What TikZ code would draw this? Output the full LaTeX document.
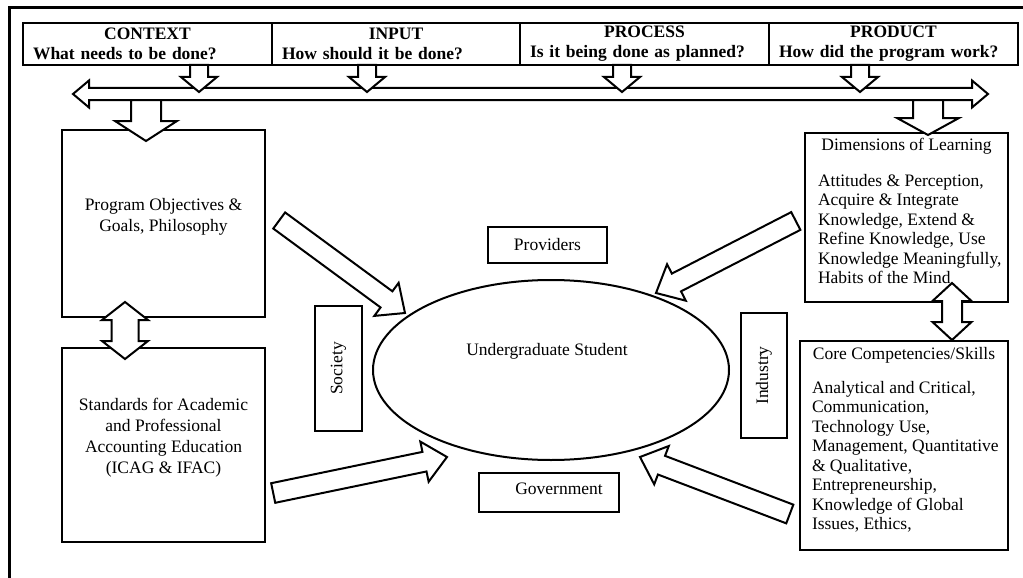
\documentclass[tikz,border=0pt]{standalone}
\usepackage{fontspec}
\setmainfont{Liberation Serif}
\usetikzlibrary{calc,positioning,shapes.geometric}

\newcommand\figfont{\fontsize{17.5}{20}\selectfont}
\newcommand\headline[2]{\hbox to\hsize{\hss#1\hss}\\#2}

% block arrow: from, to, half shaft, half head, head length
\newcommand\fatarrow[5]{
  \coordinate (hb) at ($(#2)!#5!(#1)$);
  \draw[blockline] ($(#1)!#3!90:(#2)$) -- ($(hb)!#3!90:(#2)$) -- ($(hb)!#4!90:(#2)$)
    -- (#2) -- ($(hb)!#4!-90:(#2)$) -- ($(hb)!#3!-90:(#2)$) -- ($(#1)!#3!-90:(#2)$) -- cycle;
}
\newcommand\twinarrow[5]{
  \coordinate (ha) at ($(#1)!#5!(#2)$);
  \coordinate (hb) at ($(#2)!#5!(#1)$);
  \draw[blockline] (#1) -- ($(ha)!#4!90:(#2)$) -- ($(ha)!#3!90:(#2)$) -- ($(hb)!#3!90:(#2)$)
    -- ($(hb)!#4!90:(#2)$) -- (#2) -- ($(hb)!#4!-90:(#2)$) -- ($(hb)!#3!-90:(#2)$)
    -- ($(ha)!#3!-90:(#2)$) -- ($(ha)!#4!-90:(#2)$) -- cycle;
}

\begin{document}
\begin{tikzpicture}[x=1pt, y=-1pt, font=\figfont,
  frame/.style={line width=3pt},
  cell/.style={draw, line width=1.3pt, minimum height=42pt, inner xsep=10pt, inner ysep=0pt,
    align=left, font=\figfont\bfseries},
  bigbox/.style={draw, line width=2.4pt, inner sep=0pt},
  tagbox/.style={draw, line width=1.5pt, inner sep=0pt},
  listtext/.style={align=left, inner sep=0pt, font=\fontsize{17.5}{19.5}\selectfont},
  blockline/.style={draw, fill=white, line width=2pt, line join=miter}]

  \useasboundingbox (0,0) rectangle (1023,578);
  \draw[frame] (9,578) -- (9,8) -- (1023,8);

  % CIPP header
  \node[cell, text width=229] (ctx) at (147.5,44) {\headline{CONTEXT}{What needs to be done?}};
  \node[cell, text width=228] (inp) at (396,44)   {\headline{INPUT}{How should it be done?}};
  \node[cell, text width=229] (pro) at (644.5,44) {\headline{PROCESS}{Is it being done as planned?}};
  \node[cell, text width=229] (prd) at (893.5,44) {\headline{PRODUCT}{How did the program work?}};

  \twinarrow{73,94}{988,94}{6pt}{13.5pt}{16pt}
  \foreach \x in {199,367,622,860} {
    \fatarrow{\x,65}{\x,92}{9pt}{18pt}{15pt}
  }

  % left column
  \node[bigbox, minimum width=203, minimum height=187] (prog) at (163.5,223.5) {};
  \node[align=center, font=\fontsize{17.5}{21}\selectfont] at ($(prog)+(0,-7)$)
    {Program Objectives \&\\Goals, Philosophy};
  \node[bigbox, minimum width=203, minimum height=194] (std) at (163.5,445) {};
  \node[align=center, font=\fontsize{17.5}{21}\selectfont] at ($(std)+(0,-7)$)
    {Standards for Academic\\and Professional\\Accounting Education\\(ICAG \& IFAC)};

  % right column
  \node[bigbox, minimum width=203, minimum height=169] (dims) at (906.5,217.5) {};
  \node at ($(dims.north)+(0,14)$) {Dimensions of Learning};
  \node[listtext, anchor=north west] at ($(dims.north west)+(14,42)$)
    {Attitudes \& Perception,\\Acquire \& Integrate\\Knowledge, Extend \&\\Refine Knowledge, Use\\Knowledge Meaningfully,\\Habits of the Mind};
  \node[bigbox, minimum width=208, minimum height=209] (core) at (904,445.5) {};
  \node at ($(core.north)+(0,15)$) {Core Competencies/Skills};
  \node[listtext, anchor=north west] at ($(core.north west)+(13,41)$)
    {Analytical and Critical,\\Communication,\\Technology Use,\\Management, Quantitative\\\& Qualitative,\\Entrepreneurship,\\Knowledge of Global\\Issues, Ethics,};

  \fatarrow{146,100}{146,141}{15pt}{31pt}{20pt}
  \fatarrow{928,100}{928,135}{15pt}{31pt}{17pt}
  \twinarrow{125,302}{125,359}{13.5pt}{23pt}{18pt}
  \twinarrow{952,283}{952,340}{10pt}{19.5pt}{18pt}

  % stakeholders round the student
  \node[ellipse, draw, line width=2pt, minimum width=356, minimum height=180, inner sep=0pt] (stu) at (551,370) {};
  \node at ($(stu)+(-4,-19)$) {Undergraduate Student};
  \node[tagbox, minimum width=119, minimum height=36] (prov) at (547.5,245) {Providers};
  \node[tagbox, minimum width=140, minimum height=39] (gov) at (549,492.5) {};
  \node at ($(gov)+(10,-4)$) {Government};
  \node[tagbox, rotate=90, minimum width=125, minimum height=47] (soc) at (338.5,368.5) {Society};
  \node[tagbox, rotate=90, minimum width=125, minimum height=46] (ind) at (764,375.5) {Industry};

  \coordinate (t1) at ($(prog.east)+(13,-3)$);
  \coordinate (h1) at (405,313);
  \coordinate (t2) at ($(std.east)+(7,48)$);
  \coordinate (h2) at (447,457);
  \coordinate (t3) at ($(dims.west)+(-8,3.5)$);
  \coordinate (h3) at (656,293);
  \coordinate (t4) at ($(core.west)+(-9,68.5)$);
  \coordinate (h4) at (640,457);
  \foreach \t/\h in {t1/h1, t2/h2, t3/h3, t4/h4} {
    \fatarrow{\t}{\h}{10pt}{20.5pt}{23pt}
  }

\end{tikzpicture}
\end{document}
